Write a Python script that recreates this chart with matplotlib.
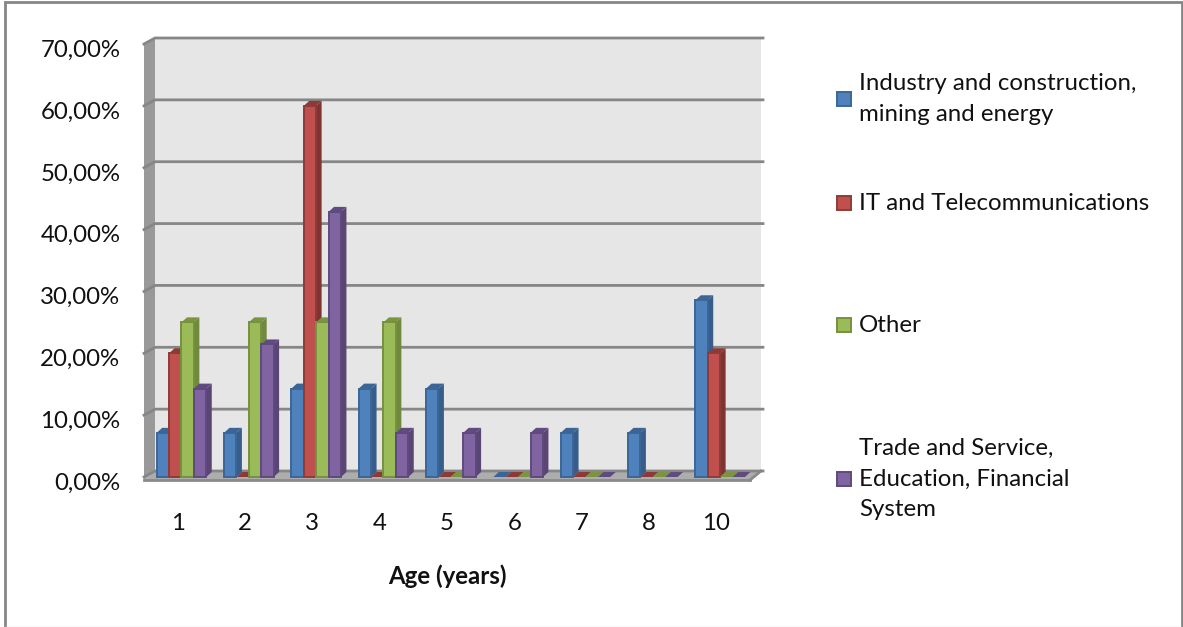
from matplotlib import pyplot as plt
from matplotlib.patches import Polygon, Rectangle
from matplotlib.lines import Line2D
from matplotlib.transforms import ScaledTranslation

plt.rcParams['font.family'] = ['Lato', 'DejaVu Sans']

ages = ['1', '2', '3', '4', '5', '6', '7', '8', '10']
industry = [7.14, 7.14, 14.29, 14.29, 14.29, 0, 7.14, 7.14, 28.57]
it_telecom = [20, 0, 60, 0, 0, 0, 0, 0, 20]
other = [25, 25, 25, 25, 0, 0, 0, 0, 0]
trade = [14.29, 21.43, 42.86, 7.14, 7.14, 7.14, 0, 0, 0]
y_ticks = [0, 10, 20, 30, 40, 50, 60, 70]
y_labels = ['0,00%', '10,00%', '20,00%', '30,00%', '40,00%', '50,00%', '60,00%', '70,00%']

series = [industry, it_telecom, other, trade]
names = ['Industry and construction,\nmining and energy', 'IT and Telecommunications',
         'Other', 'Trade and Service,\nEducation, Financial\nSystem']
fronts = ['#4f81bd', '#c0504d', '#9bbb59', '#8064a2']
sides = ['#385d8a', '#7f3431', '#71893f', '#5a4675']
tops = ['#3a6596', '#8c3a37', '#7a9440', '#604b80']
edges = ['#3a6697', '#8f3b38', '#76913f', '#5f4a7e']
FONT = 17.3

W, H = 1183, 627
fig = plt.figure(figsize=(W / 100, H / 100), dpi=100)
# axes is the front plane of the 3d box
left, right, bottom, top = 144, 750, 477, 44
ax = fig.add_axes([left / W, 1 - bottom / H, (right - left) / W, (bottom - top) / H])
ax.set_xlim(0, 9)
ax.set_ylim(0, 70)
for s in ax.spines.values():
    s.set_visible(False)
ax.patch.set_visible(False)

px_x = 9 / (right - left)
px_y = 70 / (bottom - top)
wall_dx, wall_dy = 11 * px_x, 6 * px_y
base_y = -3 * px_y
bar_w = 12.4 * px_x
bar_dx, bar_dy = 5.5 * px_x, 5 * px_y
group_shift = 3.8 * px_x


def poly(pts, color, z, edge=None, lw=0):
    ax.add_patch(Polygon(pts, closed=True, facecolor=color, edgecolor=edge or color,
                         linewidth=lw, zorder=z, clip_on=False))


# back wall, left wall, floor
poly([(wall_dx, wall_dy), (9 + wall_dx, wall_dy), (9 + wall_dx, 70 + wall_dy), (wall_dx, 70 + wall_dy)], '#e6e6e6', 1)
poly([(0, base_y), (wall_dx, wall_dy), (wall_dx, 70 + wall_dy), (0, 70)], '#999999', 2)
poly([(0, base_y), (9, base_y), (9 + wall_dx, wall_dy), (wall_dx, wall_dy)], '#adadad', 2)
ax.plot([0, 9], [base_y, base_y], color='#8a8a8a', lw=2, zorder=3, clip_on=False)
ax.plot([9, 9 + wall_dx], [base_y, wall_dy], color='#8a8a8a', lw=2, zorder=3, clip_on=False)

for v in y_ticks:
    ax.plot([0, wall_dx, 9 + wall_dx + 2 * px_x], [v, v + wall_dy, v + wall_dy],
            color='#868686', lw=2, zorder=3, clip_on=False, solid_joinstyle='miter')

# bars, back to front is not needed since they only touch side by side
for i in range(len(ages)):
    start = i + 0.5 - 2 * bar_w + group_shift
    for j, vals in enumerate(series):
        v = vals[i]
        x0 = start + j * bar_w
        x1 = x0 + bar_w
        z = 5 + i + j * 0.1
        poly([(x1, 0), (x1 + bar_dx, bar_dy), (x1 + bar_dx, v + bar_dy), (x1, v)], sides[j], z)
        poly([(x0, v), (x1, v), (x1 + bar_dx, v + bar_dy), (x0 + bar_dx, v + bar_dy)], tops[j], z)
        if v > 0:
            ax.add_patch(Rectangle((x0, 0), bar_w, v, facecolor=fronts[j], edgecolor=edges[j],
                                   linewidth=1.4, zorder=z + 0.05, clip_on=False))

ax.set_xticks([i + 0.5 for i in range(len(ages))])
ax.set_xticklabels(ages, fontsize=FONT, color='#111111')
ax.set_yticks(y_ticks)
ax.set_yticklabels(y_labels, fontsize=FONT, color='#111111')
ax.tick_params(axis='both', length=0)
ax.tick_params(axis='x', pad=26)
ax.tick_params(axis='y', pad=17)
shift = ScaledTranslation(0, -3 / 72, fig.dpi_scale_trans)
for lab in ax.get_yticklabels():
    lab.set_transform(lab.get_transform() + shift)
ax.set_xlabel('Age (years)', fontsize=FONT, fontweight='bold', color='#111111', labelpad=22)

# legend entries are not evenly spaced in the original, so placed by hand
leg_y = [99, 203, 325, 479]
for j, name in enumerate(names):
    fig.add_artist(Rectangle((837 / W, 1 - (leg_y[j] + 7) / H), 14 / W, 14 / H, transform=fig.transFigure,
                             facecolor=fronts[j], edgecolor=edges[j], linewidth=1.4))
    fig.text(859 / W, 1 - leg_y[j] / H, name, fontsize=FONT, va='center', ha='left',
             color='#111111', linespacing=1.55)

# chart frame, bottom edge is only a faint line in the original
frame = [(4.5, 627), (4.5, 1.5), (1181.5, 1.5), (1181.5, 627)]
fig.add_artist(Line2D([p[0] / W for p in frame], [1 - p[1] / H for p in frame], transform=fig.transFigure,
                      color='#868686', lw=2, solid_joinstyle='miter'))
fig.add_artist(Line2D([4.5 / W, 1181 / W], [1 - 626.5 / H, 1 - 626.5 / H], transform=fig.transFigure,
                      color='#dddddd', lw=1))

fig.savefig('out.png', dpi=100)
